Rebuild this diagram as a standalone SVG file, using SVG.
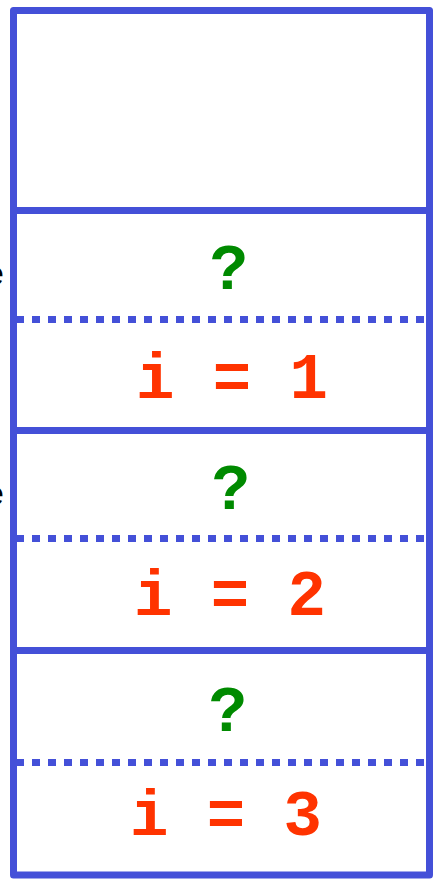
<svg xmlns="http://www.w3.org/2000/svg" width="433" height="880" viewBox="0 0 433 880">
<style>
.box{fill:none;stroke:#4450d8;stroke-width:7;stroke-linejoin:round}
.sep{stroke:#4450d8;stroke-width:7}
.dot{stroke:#4450d8;stroke-width:7;stroke-dasharray:8 8}
.q{font-family:"Liberation Mono","Courier New",monospace;font-weight:bold;font-size:64px;fill:#008a00;text-anchor:middle}
.v{font-family:"Liberation Mono","Courier New",monospace;font-weight:bold;font-size:64px;fill:#ff3300;text-anchor:middle}
.lbl{font-family:"Liberation Sans",Arial,sans-serif;font-size:34px;fill:#000;text-anchor:end}
</style>
<text class="lbl" x="4" y="285">e</text>
<text class="lbl" x="4" y="505">e</text>
<g id="connectors">
<line class="sep" x1="13.5" y1="210.5" x2="429.5" y2="210.5"/>
<line class="sep" x1="13.5" y1="430.5" x2="429.5" y2="430.5"/>
<line class="sep" x1="13.5" y1="650.5" x2="429.5" y2="650.5"/>
<line class="dot" x1="16" y1="319.5" x2="426" y2="319.5"/>
<line class="dot" x1="16" y1="538.5" x2="426" y2="538.5"/>
<line class="dot" x1="16" y1="762.5" x2="426" y2="762.5"/>
</g>
<g id="stack"><rect class="box" x="13.5" y="10.5" width="416" height="864.5"/></g>
<g id="frame1"><text class="q" x="229" y="289">?</text><text class="v" x="232" y="398">i = 1</text></g>
<g id="frame2"><text class="q" x="231" y="509">?</text><text class="v" x="230" y="615">i = 2</text></g>
<g id="frame3"><text class="q" x="228" y="731">?</text><text class="v" x="226" y="835">i = 3</text></g>
</svg>
